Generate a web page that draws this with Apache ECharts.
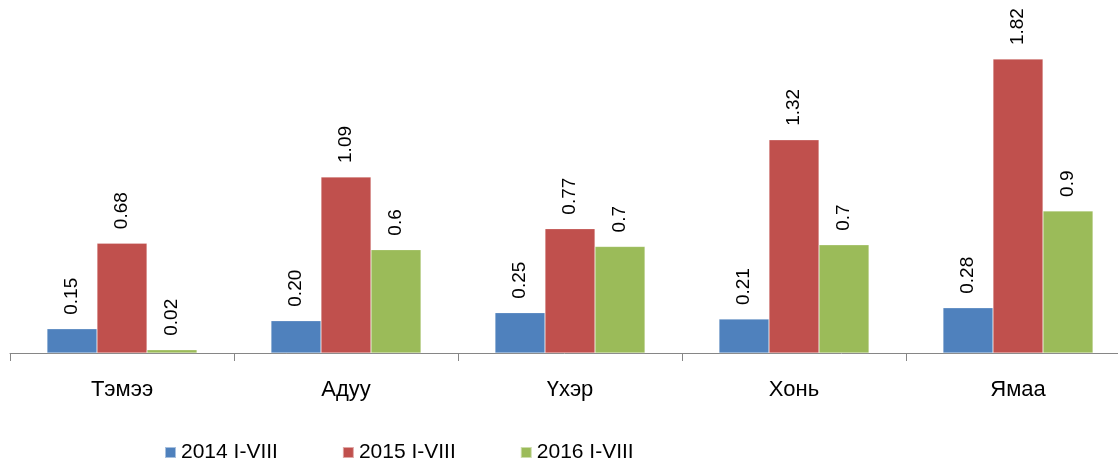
<!DOCTYPE html>
<html><head><meta charset="utf-8">
<script src="https://cdn.jsdelivr.net/npm/echarts@6/dist/echarts.min.js"></script>
<style>html,body{margin:0;padding:0;background:#fff}#c{width:1118px;height:462px}</style>
</head><body><div id="c"></div>
<script>
const categories = ['Тэмээ','Адуу','Үхэр','Хонь','Ямаа'];
const seriesNames = ['2014 I-VIII','2015 I-VIII','2016 I-VIII'];
const v2014 = [0.15,0.20,0.25,0.21,0.28];
const v2015 = [0.68,1.09,0.77,1.32,1.82];
const v2016 = [0.02,0.64,0.66,0.67,0.88];
const labels2014 = ['0.15','0.20','0.25','0.21','0.28'];
const labels2015 = ['0.68','1.09','0.77','1.32','1.82'];
const labels2016 = ['0.02','0.6','0.7','0.7','0.9'];
const colors = ['#4F81BD','#C0504D','#9BBB59'];
const FONT = 'Liberation Sans';

function mk(name, data, lbls, color){
  return {
    name, type:'bar', data, barWidth:50, barGap:'0%',
    itemStyle:{color, borderColor:'rgba(255,255,255,0.5)', borderWidth:0.5},
    label:{show:true, position:'top', rotate:90, align:'left', verticalAlign:'middle', distance:14,
      fontFamily:FONT, fontSize:19, color:'#000',
      formatter:(p)=>lbls[p.dataIndex]}
  };
}
const chart = echarts.init(document.getElementById('c'), null, {renderer:'canvas'});
chart.setOption({
  animation:false,
  color:colors,
  grid:{left:10, right:-12, top:30, bottom:109, containLabel:false, outerBoundsMode:'none'},
  legend:{bottom:-6, left:159, itemWidth:11, itemHeight:11, itemGap:64, icon:'rect',
    textStyle:{fontFamily:FONT, fontSize:21, color:'#000'}, data:seriesNames},
  xAxis:{type:'category', data:categories,
    axisLine:{lineStyle:{color:'#868686', width:1}},
    axisTick:{show:true, length:8, lineStyle:{color:'#868686'}},
    axisLabel:{fontFamily:FONT, fontSize:22, color:'#000', margin:26}},
  yAxis:{type:'value', min:0, max:2, show:false, splitLine:{show:false}},
  series:[mk(seriesNames[0],v2014,labels2014,colors[0]),
          mk(seriesNames[1],v2015,labels2015,colors[1]),
          mk(seriesNames[2],v2016,labels2016,colors[2])]
});
</script></body></html>
